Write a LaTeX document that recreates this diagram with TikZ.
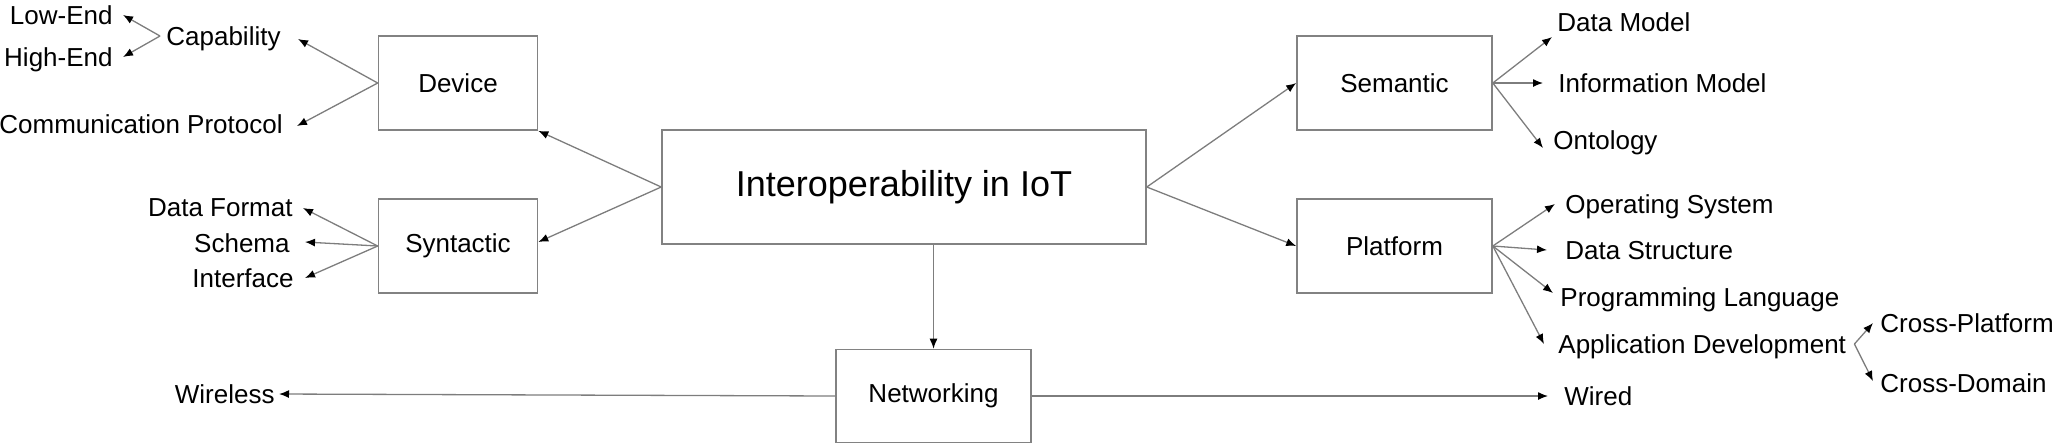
\documentclass[tikz,border=0pt]{standalone}
\usepackage{fontspec}
\setmainfont{Liberation Sans}
\usetikzlibrary{arrows.meta}
\definecolor{linegray}{RGB}{125,125,125}
\definecolor{boxgray}{RGB}{130,130,130}
\begin{document}
\begin{tikzpicture}[x=0.5pt,y=-0.5pt,
  box/.style={draw=boxgray, line width=0.8pt, inner sep=0pt, font=\fontsize{13}{15}\selectfont},
  lbl/.style={inner sep=0pt, text height=9.5pt, text depth=0pt, font=\fontsize{13}{15}\selectfont},
  arr/.style={draw=linegray, line width=0.65pt, -{Latex[color=black,length=5pt,width=4pt]}},
  ln/.style={draw=linegray, line width=0.65pt}]
\useasboundingbox (0,0) rectangle (2052,447);
% boxes
\node[box, minimum width=79.5pt, minimum height=47pt] (device) at (458,83) {Device};
\node[box, minimum width=79.5pt, minimum height=47pt] (syntactic) at (458,246) {Syntactic};
\node[box, minimum width=242pt, minimum height=57pt, font=\fontsize{18}{21}\selectfont] (central) at (904,187) {Interoperability in IoT};
\node[box, minimum width=97.5pt, minimum height=47pt] (semantic) at (1394.5,83) {Semantic};
\node[box, minimum width=97.5pt, minimum height=47pt] (platform) at (1394.5,246) {Platform};
\node[box, minimum width=97.5pt, minimum height=46.5pt] (networking) at (933.5,396) {Networking};
% labels
\node[lbl, anchor=east] (lowend) at (113,15) {Low-End};
\node[lbl, anchor=east] (highend) at (113,57) {High-End};
\node[lbl, anchor=west] (capab) at (166,36) {Capability};
\node[lbl, anchor=east] (comm) at (283,124) {Communication Protocol};
\node[lbl, anchor=east] (dformat) at (293,207) {Data Format};
\node[lbl, anchor=east] (schema) at (290,243) {Schema};
\node[lbl, anchor=east] (iface) at (294,278) {Interface};
\node[lbl, anchor=west] (dmodel) at (1557,22) {Data Model};
\node[lbl, anchor=west] (imodel) at (1558,83) {Information Model};
\node[lbl, anchor=west] (onto) at (1553,140) {Ontology};
\node[lbl, anchor=west] (opsys) at (1565,204) {Operating System};
\node[lbl, anchor=west] (dstruct) at (1565,250) {Data Structure};
\node[lbl, anchor=west] (proglang) at (1560,297) {Programming Language};
\node[lbl, anchor=west] (appdev) at (1558,344) {Application Development};
\node[lbl, anchor=west] (xplat) at (1880,323) {Cross-Platform};
\node[lbl, anchor=west] (xdom) at (1880,383) {Cross-Domain};
\node[lbl, anchor=east] (wireless) at (275,394) {Wireless};
\node[lbl, anchor=west] (wired) at (1564,396) {Wired};
% capability bracket
\coordinate (cb) at ([xshift=-3pt]capab.west);
\draw[arr] (cb) -- ([xshift=5pt]lowend.east);
\draw[arr] (cb) -- ([xshift=5pt]highend.east);
% device
\draw[arr] (device.west) -- ([xshift=8.5pt,yshift=-1.5pt]capab.east);
\draw[arr] (device.west) -- ([xshift=7pt,yshift=-1pt]comm.east);
% syntactic
\draw[arr] (syntactic.west) -- ([xshift=5pt,yshift=-0.5pt]dformat.east);
\draw[arr] (syntactic.west) -- ([xshift=7.5pt,yshift=0.5pt]schema.east);
\draw[arr] (syntactic.west) -- ([xshift=5.5pt]iface.east);
% central
\draw[arr] (central.west) -- (device.south east);
\draw[arr] (central.west) -- ([yshift=2pt]syntactic.east);
\draw[arr] (central.east) -- (semantic.west);
\draw[arr] (central.east) -- (platform.west);
\draw[arr] (networking.north |- central.south) -- (networking.north);
% semantic
\draw[arr] (semantic.east) -- ([xshift=-2.5pt,yshift=-7.5pt]dmodel.west);
\draw[arr] (semantic.east) -- ([xshift=-7.5pt]imodel.west);
\draw[arr] (semantic.east) -- ([xshift=-5pt,yshift=-4pt]onto.west);
% platform
\draw[arr] (platform.east) -- ([xshift=-5pt]opsys.west);
\draw[arr] (platform.east) -- ([xshift=-9pt]dstruct.west);
\draw[arr] (platform.east) -- ([xshift=-3.5pt,yshift=2pt]proglang.west);
\draw[arr] (platform.east) -- ([xshift=-7pt]appdev.west);
% application development bracket
\coordinate (ab) at ([xshift=4pt]appdev.east);
\draw[arr] (ab) -- ([xshift=-3.5pt]xplat.west);
\draw[arr] (ab) -- ([xshift=-3.5pt,yshift=1pt]xdom.west);
% networking
\draw[arr] (networking.west) -- ([xshift=2pt]wireless.east);
\draw[arr] (networking.east) -- ([xshift=-8pt]wired.west);
\end{tikzpicture}
\end{document}
